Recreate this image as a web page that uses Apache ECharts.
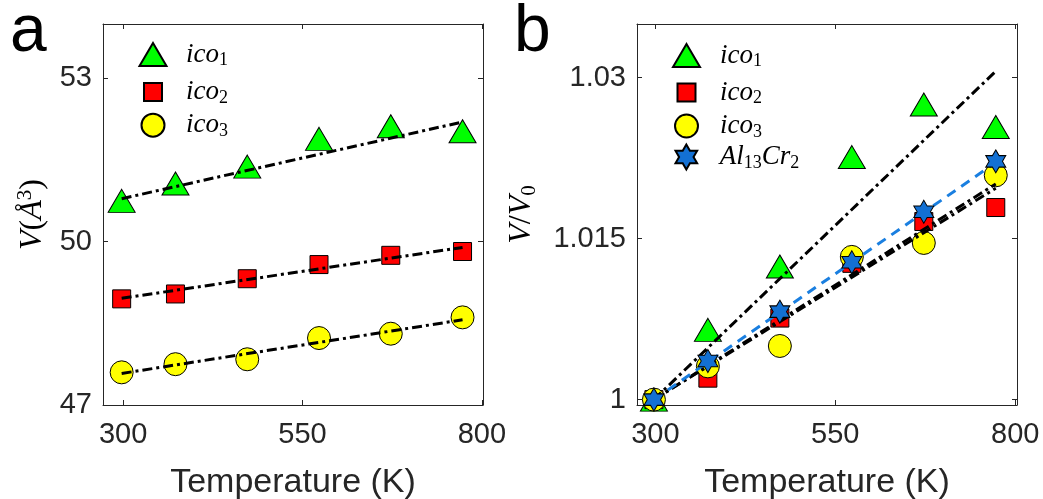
<!DOCTYPE html>
<html>
<head>
<meta charset="utf-8">
<script src="https://cdn.jsdelivr.net/npm/echarts@6/dist/echarts.min.js"></script>
<style>html,body{margin:0;padding:0;background:#fff}#c{width:1043px;height:499px}</style>
</head>
<body>
<div id="c"></div>
<script>
// ---- data ----
const temps = [298, 373, 473, 573, 673, 773];
const fitTemps = [298, 773];
const xTicks = [300, 550, 800];
const yTicksA = [47, 50, 53];
const yTicksB = [1, 1.015, 1.03];

// panel a: volume (Å^3)
const ico1V = [50.75, 51.07, 51.38, 51.89, 52.12, 52.03];
const ico2V = [48.95, 49.04, 49.32, 49.58, 49.75, 49.82];
const ico3V = [47.60, 47.75, 47.84, 48.23, 48.31, 48.61];
const fit1V = [50.79, 52.20];
const fit2V = [48.96, 49.895];
const fit3V = [47.58, 48.565];

// panel b: V/V0
const ico1R = [1, 1.0065, 1.0124, 1.0226, 1.0275, 1.0254];
const ico2R = [1, 1.0020, 1.0076, 1.0127, 1.0166, 1.0179];
const ico3R = [1, 1.0031, 1.0050, 1.0133, 1.0146, 1.0209];
const alR   = [1, 1.0036, 1.0082, 1.0128, 1.0175, 1.0222];
const fit1R = [1, 1.0306];
const fit2R = [1, 1.0201];
const fit3R = [1, 1.0197];
const fitAlR = [1, 1.0221];

// ---- helpers ----
const pts = (xs, ys) => xs.map((x, i) => [x, ys[i]]);
const STAR = 'path://M50 0 L64.43 25 L93.3 25 L78.87 50 L93.3 75 L64.43 75 L50 100 L35.57 75 L6.7 75 L21.13 50 L6.7 25 L35.57 25 Z';
const AX = '#262626';
const SERIF = 'Liberation Serif';
const SANS = 'Liberation Sans';

const styles = {
  ico1: {symbol: 'triangle', size: [27, 23], color: '#00ff00'},
  ico2: {symbol: 'rect', size: [18, 18], color: '#ff0000'},
  ico3: {symbol: 'circle', size: [23, 23], color: '#ffff00'},
  Al13Cr2: {symbol: STAR, size: [20, 23], color: '#1370d3'}
};

function scatter(name, data, xi, z) {
  const s = styles[name];
  return {
    type: 'scatter', name, xAxisIndex: xi, yAxisIndex: xi, data,
    symbol: s.symbol, symbolSize: s.size, symbolKeepAspect: false, z,
    itemStyle: {color: s.color, borderColor: '#000', borderWidth: 1, opacity: 1},
    emphasis: {disabled: true}, silent: true
  };
}
function fitLine(data, xi, z, color, type) {
  return {
    type: 'line', xAxisIndex: xi, yAxisIndex: xi, data, z,
    symbol: 'none', showSymbol: false, silent: true,
    lineStyle: {color, width: 3, type}, emphasis: {disabled: true}
  };
}
const DASHDOT = [10, 4, 3, 4];
const DASH = [10, 7];

function xAxes(gi, min, max) {
  return [
    {type: 'value', gridIndex: gi, position: 'bottom', min, max,
     axisLine: {show: true, lineStyle: {color: AX, width: 1}},
     axisTick: {show: true, inside: true, length: 5, customValues: xTicks, lineStyle: {color: AX}},
     axisLabel: {show: true, customValues: xTicks, margin: 15, color: AX, fontSize: 29, fontFamily: SANS},
     splitLine: {show: false},
     name: 'Temperature (K)', nameLocation: 'middle', nameGap: 61,
     nameTextStyle: {color: AX, fontSize: 34, fontFamily: SANS}},
    {type: 'value', gridIndex: gi, position: 'top', min, max,
     axisLine: {show: true, onZero: false, lineStyle: {color: AX, width: 1}},
     axisTick: {show: true, inside: true, length: 5, customValues: xTicks, lineStyle: {color: AX}},
     axisLabel: {show: false}, splitLine: {show: false}}
  ];
}
function yAxes(gi, min, max, ticks, name, gap, rich) {
  return [
    {type: 'value', gridIndex: gi, position: 'left', min, max,
     axisLine: {show: true, onZero: false, lineStyle: {color: AX, width: 1}},
     axisTick: {show: true, inside: true, length: 5, customValues: ticks, lineStyle: {color: AX}},
     axisLabel: {show: true, customValues: ticks, margin: 11, color: AX, fontSize: 29, fontFamily: SANS},
     splitLine: {show: false},
     name, nameLocation: 'middle', nameGap: gap, nameRotate: 90,
     nameTextStyle: {rich}},
    {type: 'value', gridIndex: gi, position: 'right', min, max,
     axisLine: {show: true, onZero: false, lineStyle: {color: AX, width: 1}},
     axisTick: {show: true, inside: true, length: 5, customValues: ticks, lineStyle: {color: AX}},
     axisLabel: {show: false}, splitLine: {show: false}}
  ];
}

const labelRich = {
  i: {fontFamily: SERIF, fontStyle: 'italic', fontSize: 32, lineHeight: 36, color: '#000'},
  n: {fontFamily: SERIF, fontSize: 32, lineHeight: 36, color: '#000'},
  p: {fontFamily: SERIF, fontSize: 21, lineHeight: 16, verticalAlign: 'top', color: '#000'},
  s: {fontFamily: SERIF, fontSize: 21, lineHeight: 14, verticalAlign: 'bottom', color: '#000'}
};

const legendRich = {
  a: {fontFamily: SERIF, fontStyle: 'italic', fontSize: 27, lineHeight: 30, color: '#000'},
  b: {fontFamily: SERIF, fontSize: 18, lineHeight: 14, verticalAlign: 'bottom', color: '#000'}
};
const legendText = {
  ico1: '{a|ico}{b|1}', ico2: '{a|ico}{b|2}', ico3: '{a|ico}{b|3}',
  Al13Cr2: '{a|Al}{b|13}{a|Cr}{b|2}'
};
function legendItem(name, cx, cy, w, h, textX) {
  const left = cx - w / 2;
  return {
    show: true, data: [name], left, top: cy - 15, padding: 0,
    itemWidth: w, itemHeight: h, selectedMode: false, orient: 'vertical',
    formatter: n => legendText[n],
    textStyle: {rich: legendRich, padding: [0, 0, 0, textX - (left + w + 5)]}
  };
}

const option = {
  animation: false,
  backgroundColor: '#fff',
  grid: [
    {left: 103, top: 24, width: 380, height: 381, outerBoundsMode: 'none', containLabel: false},
    {left: 637, top: 24, width: 380, height: 381, outerBoundsMode: 'none', containLabel: false}
  ],
  xAxis: [...xAxes(0, 272, 801.5), ...xAxes(1, 274.5, 802.5)],
  yAxis: [
    ...yAxes(0, 47, 54, yTicksA, '{i|V}{n|(}{i|Å}{p|3}{n|)}', 52, labelRich),
    ...yAxes(1, 0.9995, 1.035, yTicksB, '{i|V}{n|/}{i|V}{s|0}', 97, labelRich)
  ],
  legend: [
    legendItem('ico1', 152, 56, 27, 23, 185),
    legendItem('ico2', 152, 93.5, 18, 18, 185),
    legendItem('ico3', 152, 126.7, 23, 23, 185),
    legendItem('ico1', 685.5, 57, 27, 23, 719),
    legendItem('ico2', 685.5, 94, 18, 18, 719),
    legendItem('ico3', 685.5, 127.5, 23, 23, 719),
    legendItem('Al13Cr2', 685.5, 158.5, 22, 25, 719)
  ],
  graphic: [
    {type: 'text', left: 10, top: 0, style: {text: 'a', font: '66px "Liberation Sans"', fill: '#000'}},
    {type: 'text', left: 514, top: 0, style: {text: 'b', font: '66px "Liberation Sans"', fill: '#000'}}
  ],
  series: [
    scatter('ico1', pts(temps, ico1V), 0, 2),
    scatter('ico2', pts(temps, ico2V), 0, 2),
    scatter('ico3', pts(temps, ico3V), 0, 2),
    fitLine(pts(fitTemps, fit1V), 0, 3, '#000', DASHDOT),
    fitLine(pts(fitTemps, fit2V), 0, 3, '#000', DASHDOT),
    fitLine(pts(fitTemps, fit3V), 0, 3, '#000', DASHDOT),
    scatter('ico1', pts(temps, ico1R), 2, 2),
    scatter('ico2', pts(temps, ico2R), 2, 2),
    scatter('ico3', pts(temps, ico3R), 2, 2),
    fitLine(pts(fitTemps, fit1R), 2, 3, '#000', DASHDOT),
    fitLine(pts(fitTemps, fit2R), 2, 3, '#000', DASHDOT),
    fitLine(pts(fitTemps, fit3R), 2, 3, '#000', DASHDOT),
    fitLine(pts(fitTemps, fitAlR), 2, 4, '#1a7fe0', DASH),
    scatter('Al13Cr2', pts(temps, alR), 2, 5)
  ]
};
const chart = echarts.init(document.getElementById('c'), null, {renderer: 'canvas'});
chart.setOption(option);
</script>
</body>
</html>
